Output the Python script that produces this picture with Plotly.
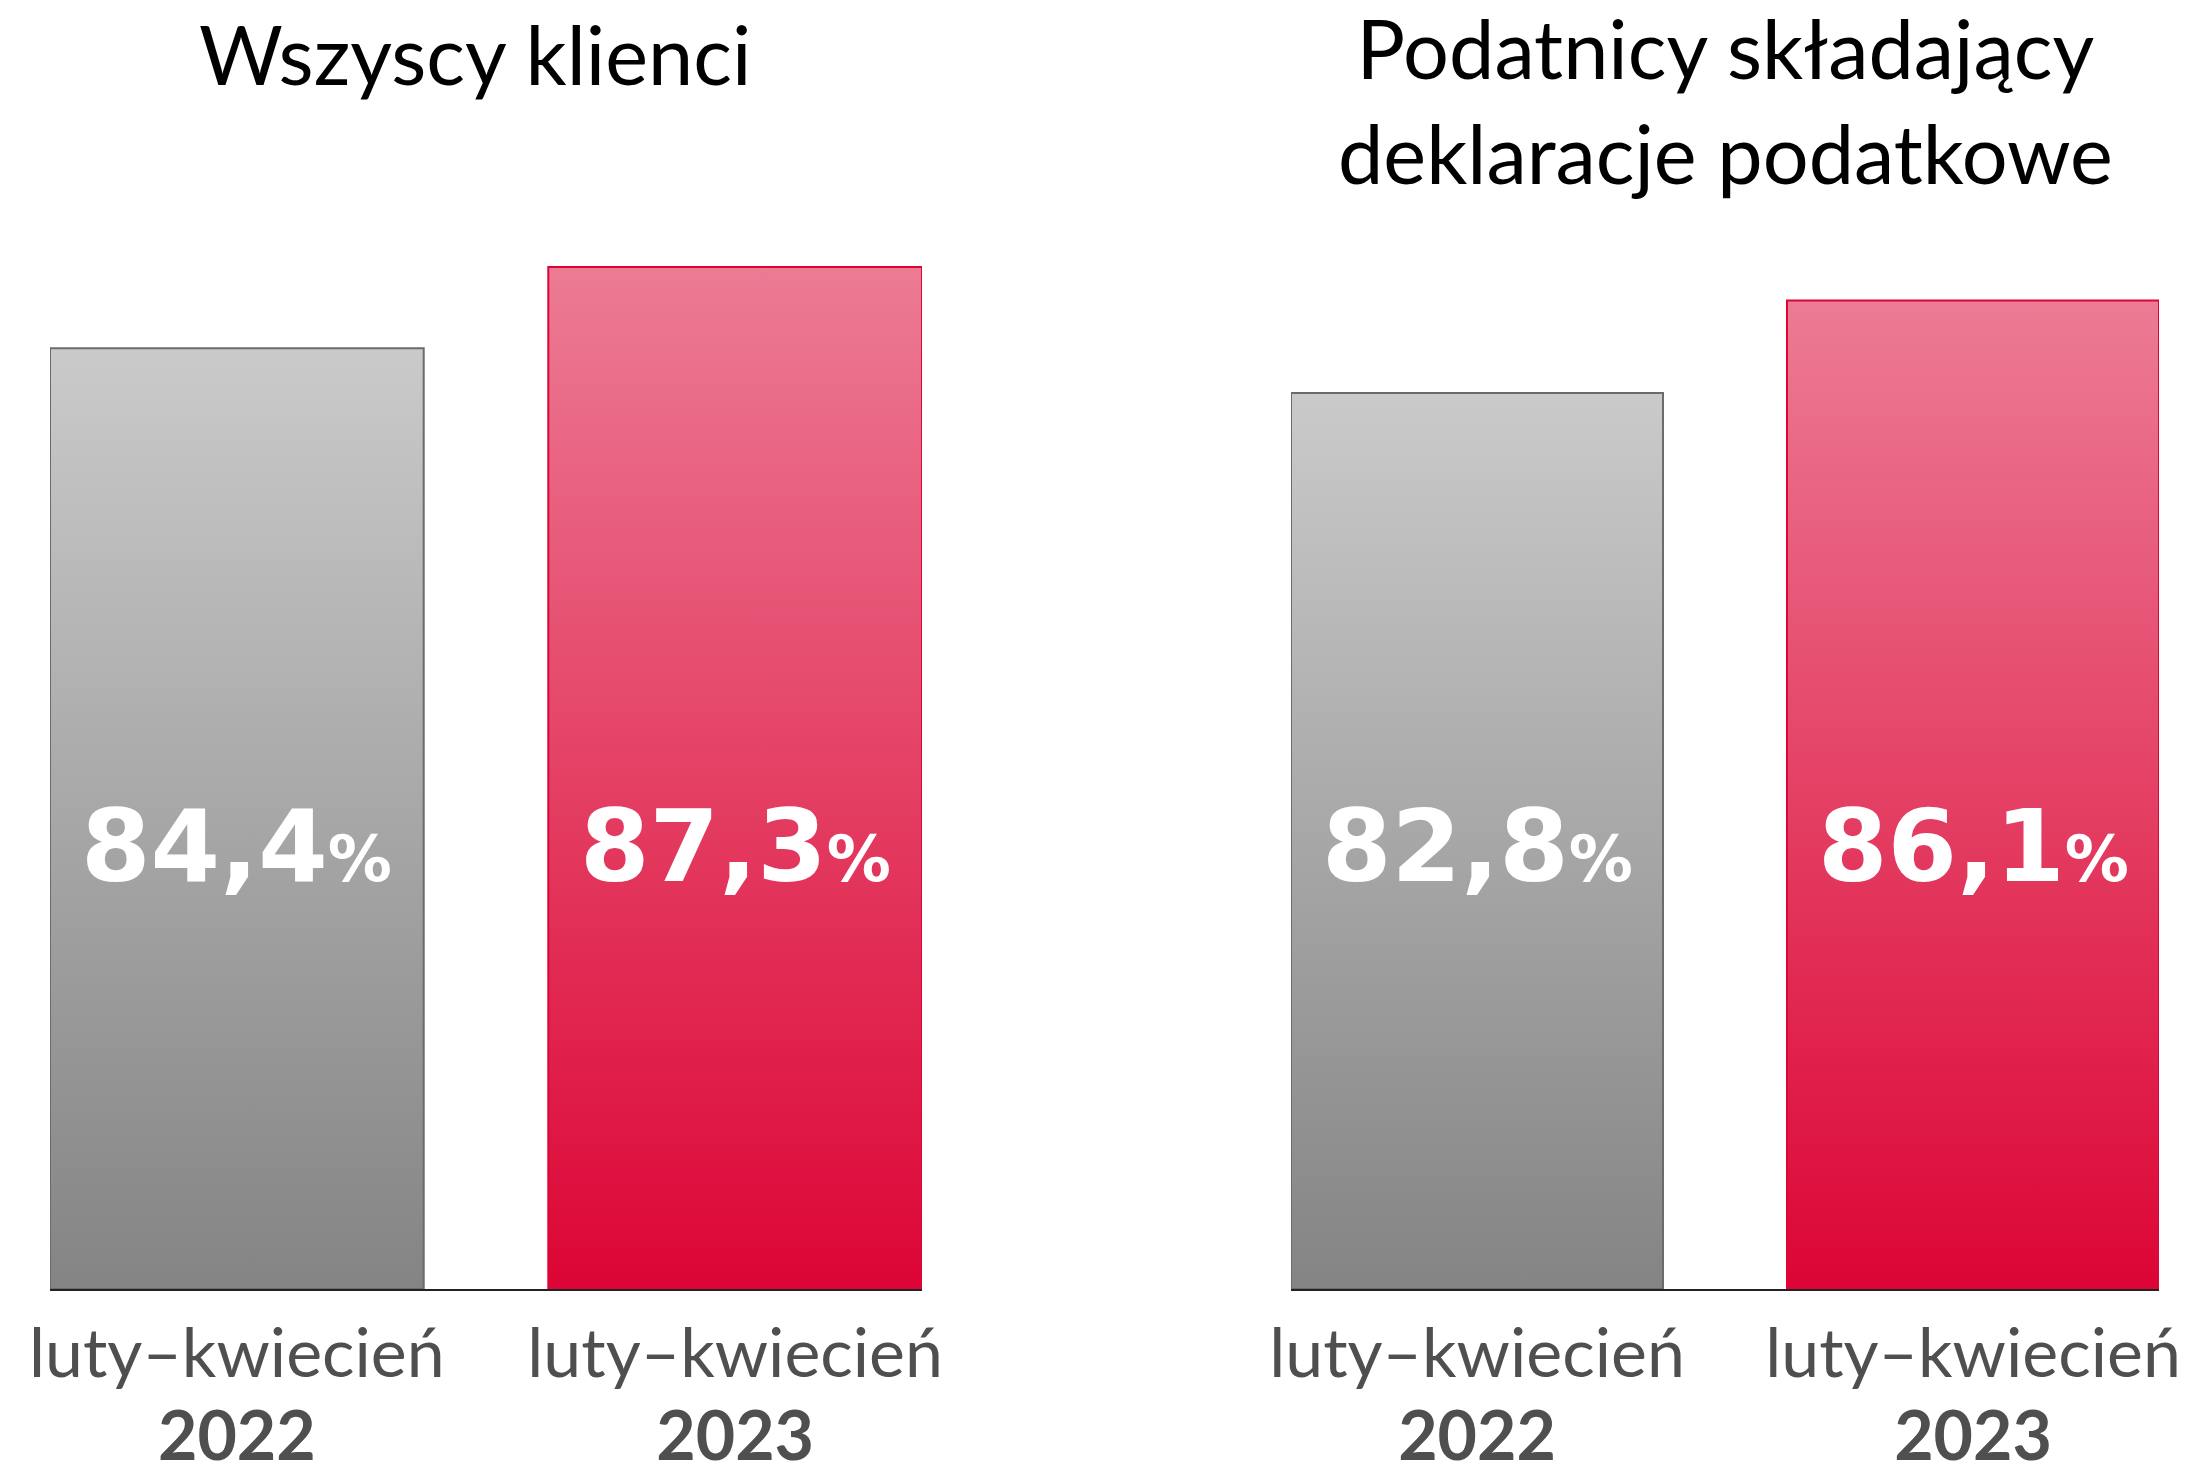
import plotly.graph_objects as go

# ---- data ----
PANEL_TITLES = ["Wszyscy klienci", "Podatnicy składający<br>deklaracje podatkowe"]
PERIODS = ["luty–kwiecień", "luty–kwiecień"]
YEARS = ["2022", "2023"]
VALUES_ALL = [84.4, 87.3]
VALUES_TAX = [82.8, 86.1]
LABELS_ALL = ["84,4", "87,3"]
LABELS_TAX = ["82,8", "86,1"]

# ---- layout constants ----
PAGE_OFF = 8                      # browser default body margin
W, H = 2192 - 2 * PAGE_OFF, 1470 - 2 * PAGE_OFF
Y_MIN, Y_MAX = 50.8, 89.69
BAR_W = 0.75
FILL_SCALES = [
    [[0, "#848484"], [1, "#cacaca"]],
    [[0, "#dc0535"], [1, "#ec7b94"]],
]
LINE_COLORS = ["#6b6b6b", "#dc0535"]
FONT = "Lato"
PLOT_TOP_PX, PLOT_BOTTOM_PX = 200, 1289          # screen pixels
X_DOMAINS_PX = [(50, 922), (1291, 2159)]         # screen pixels


def px_x(pix):
    return (pix - PAGE_OFF) / W


def px_y(pix):
    return 1 - (pix - PAGE_OFF) / H


fig = go.Figure()
panels = [(VALUES_ALL, LABELS_ALL, "x", "y"), (VALUES_TAX, LABELS_TAX, "x2", "y2")]
for values, labels, xa, ya in panels:
    for i, v in enumerate(values):
        x0, x1 = i - BAR_W / 2, i + BAR_W / 2
        fig.add_trace(go.Scatter(
            x=[x0, x0, x1, x1, x0], y=[Y_MIN, v, v, Y_MIN, Y_MIN],
            fill="toself", mode="lines",
            line=dict(color=LINE_COLORS[i], width=2),
            fillgradient=dict(type="vertical", colorscale=FILL_SCALES[i], start=Y_MIN, stop=v),
            xaxis=xa, yaxis=ya, hoverinfo="skip", showlegend=False,
        ))
        fig.add_annotation(
            x=i, y=px_y(846), xref=xa, yref="paper",
            text=f"{labels[i]}<span style='font-size:64px'>%</span>",
            showarrow=False, xanchor="center", yanchor="middle",
            font=dict(family="DejaVu Sans", size=100, color="white", weight="bold"),
        )

ticktext = [
    f"<span style='font-size:68px'>{p}</span><br><span style='font-size:68px'><b>{y}</b></span>"
    for p, y in zip(PERIODS, YEARS)
]
axis_common = dict(
    range=[-BAR_W / 2, 1 + BAR_W / 2], tickvals=[0, 1], ticktext=ticktext,
    showline=True, linecolor="#222222", linewidth=2, layer="below traces",
    showgrid=False, zeroline=False, ticks="outside", tickcolor="rgba(0,0,0,0)",
    ticklen=9, tickfont=dict(family=FONT, size=64, color="#4f4f4f"),
    fixedrange=True, automargin=False,
)
yaxis_common = dict(range=[Y_MIN, Y_MAX], visible=False, fixedrange=True, automargin=False,
                    domain=[px_y(PLOT_BOTTOM_PX), px_y(PLOT_TOP_PX)])

fig.update_layout(
    width=W, height=H, margin=dict(l=0, r=0, t=0, b=0, pad=0, autoexpand=False),
    paper_bgcolor="white", plot_bgcolor="white",
    xaxis=dict(domain=[px_x(X_DOMAINS_PX[0][0]), px_x(X_DOMAINS_PX[0][1])], anchor="y", **axis_common),
    xaxis2=dict(domain=[px_x(X_DOMAINS_PX[1][0]), px_x(X_DOMAINS_PX[1][1])], anchor="y2", **axis_common),
    yaxis=dict(anchor="x", **yaxis_common),
    yaxis2=dict(anchor="x2", **yaxis_common),
    showlegend=False,
)

# panel titles
fig.add_annotation(x=px_x(475), y=px_y(54), xref="paper", yref="paper", text=PANEL_TITLES[0],
                   showarrow=False, xanchor="center", yanchor="middle",
                   font=dict(family=FONT, size=81, color="black"))
fig.add_annotation(x=px_x(1725), y=px_y(100), xref="paper", yref="paper", text=PANEL_TITLES[1],
                   showarrow=False, xanchor="center", yanchor="middle",
                   font=dict(family=FONT, size=81, color="black"))

fig.write_html("out.html")
